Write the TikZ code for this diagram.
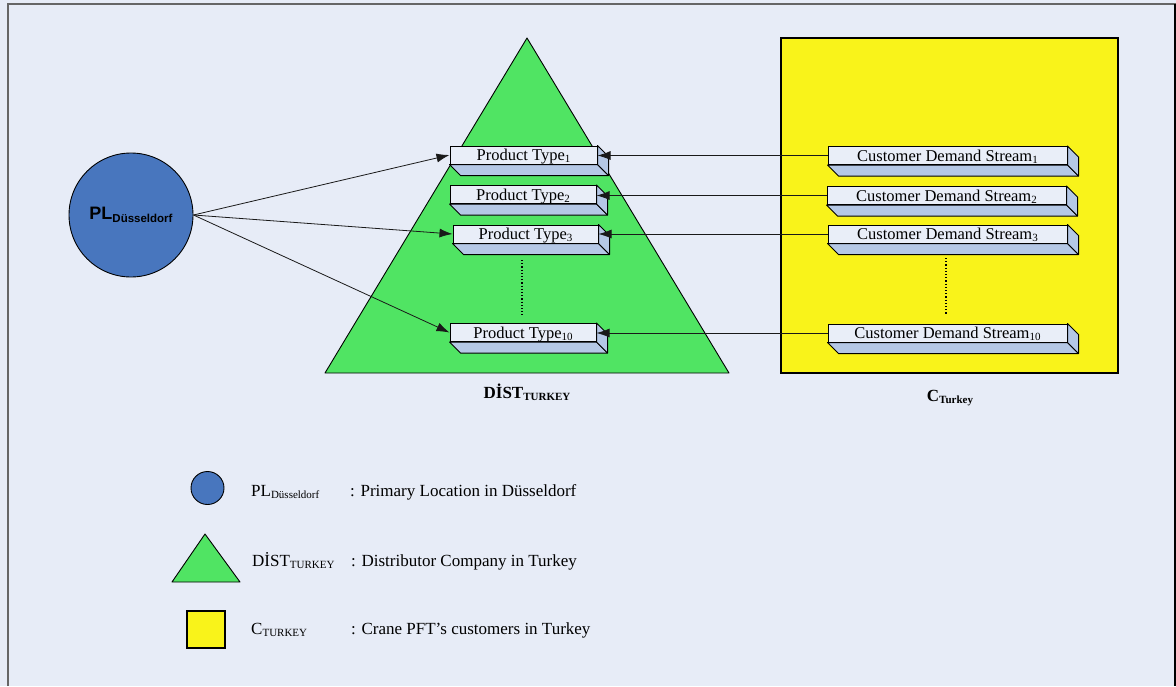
\documentclass[tikz,border=0pt]{standalone}
\usepackage{fontspec}
\setmainfont{Liberation Serif}
\newfontfamily\arialfont{Liberation Sans}
\usetikzlibrary{arrows.meta}

\definecolor{bgcol}{RGB}{231,236,247}
\definecolor{plblue}{RGB}{72,118,190}
\definecolor{distgreen}{RGB}{80,228,99}
\definecolor{custyellow}{RGB}{249,243,26}
\definecolor{facecol}{RGB}{233,238,248}
\definecolor{sidecol}{RGB}{181,200,230}

\newcommand\subtxt[1]{\raisebox{-0.3ex}{\fontsize{11}{11}\selectfont #1}}

\tikzset{
  frontface/.style={draw=black, fill=facecol, line width=1pt, minimum height=18pt,
    inner sep=0pt, text height=13.5pt, text depth=2.5pt, font=\fontsize{16.5}{18}\selectfont},
  sideface/.style={draw=black, fill=sidecol, line width=1pt, line join=round},
  link/.style={draw=black!90, line width=0.8pt, -{Latex[length=13pt,width=9pt]}},
  legendtext/.style={anchor=base west, inner sep=0pt, font=\fontsize{17}{19}\selectfont},
  capt/.style={font=\bfseries\fontsize{17}{19}\selectfont, inner sep=0pt},
  dots/.style={dotted, line width=1.2pt},
}

% a flat 3-D bar: name, centre x, centre y, width, text
\newcommand\barbox[5]{%
  \node[frontface, minimum width=#4pt] (#1) at (#2,#3) {#5};
  \path[sideface] (#1.south west) -- ++(11,11) -- ([shift={(11,11)}]#1.south east)
    -- (#1.south east) -- cycle;
  \path[sideface] (#1.north east) -- ([shift={(11,11)}]#1.north east)
    -- ([shift={(11,11)}]#1.south east) -- (#1.south east) -- cycle;
}

\begin{document}
\begin{tikzpicture}[x=1pt,y=-1pt]
  \useasboundingbox (0,0) rectangle (1176,686);
  \fill[bgcol] (0,0) rectangle (1176,686);
  % frame
  \draw[black!60, line width=2pt] (8,686) -- (8,4) -- (1176,4);
  \draw[black, line width=1.2pt] (1175,4) -- (1175,686);

  % distributor and customers
  \draw[fill=distgreen, line width=0.9pt, line join=round] (527,38) -- (729,373) -- (325,373) -- cycle;
  \draw[fill=custyellow, line width=1.8pt] (781,38) rectangle (1118,373);

  % primary location
  \node[circle, draw=black, fill=plblue, line width=0.9pt, minimum size=124pt, inner sep=0pt] (pl) at (131,215)
    {\arialfont\bfseries\fontsize{18}{18}\selectfont PL\raisebox{-0.3ex}{\fontsize{11.5}{11.5}\selectfont Düsseldorf}};

  % product types
  \barbox{p1}{523.5}{155}{147}{Product Type\subtxt{1}}
  \barbox{p2}{523}{194.5}{146}{Product Type\subtxt{2}}
  \barbox{p3}{525.5}{234}{145}{Product Type\subtxt{3}}
  \barbox{p10}{523}{332.5}{146}{Product Type\subtxt{10}}

  % customer demand streams
  \barbox{c1}{947.5}{155.5}{239}{Customer Demand Stream\subtxt{1}}
  \barbox{c2}{946.5}{195.5}{239}{Customer Demand Stream\subtxt{2}}
  \barbox{c3}{947.5}{234}{239}{Customer Demand Stream\subtxt{3}}
  \barbox{c10}{947.5}{333}{239}{Customer Demand Stream\subtxt{10}}

  % elided rows
  \coordinate (dA) at (522,260); \coordinate (dB) at (522,315);
  \coordinate (dC) at (946,258); \coordinate (dD) at (946,315);
  \draw[dots] (dA) -- (dB);
  \draw[dots] (dC) -- (dD);

  % flows
  \draw[link] (pl.east) -- (p1.west);
  \draw[link] (pl.east) -- (p3.west);
  \draw[link] (pl.east) -- (p10.west);
  \draw[link] (c1.west) -- (c1.west -| p1.east);
  \draw[link] (c2.west) -- (c2.west -| p2.east);
  \draw[link] (c3.west) -- (c3.west -| p3.east);
  \draw[link] (c10.west) -- (c10.west -| p10.east);

  % captions
  \node[capt] (distcap) at (527,392) {DİST\raisebox{-0.3ex}{\fontsize{11}{11}\selectfont TURKEY}};
  \node[capt] (custcap) at (950,398) {C\raisebox{-0.3ex}{\fontsize{11}{11}\selectfont Turkey}};

  % legend
  \node[circle, draw=black, fill=plblue, line width=0.9pt, minimum size=33pt, inner sep=0pt] (lg1) at (207.5,488) {};
  \draw[fill=distgreen, line width=0.9pt, line join=round] (172,582) -- (205,534) -- (240,582) -- cycle;
  \draw[fill=custyellow, line width=1.8pt] (187,611) rectangle (225,648);

  \node[legendtext] (l1a) at (251,496) {PL\raisebox{-0.3ex}{\fontsize{11}{11}\selectfont Düsseldorf}};
  \node[legendtext] (l1b) at (350,496) {: Primary Location in Düsseldorf};
  \node[legendtext] (l2a) at (252,566) {DİST\raisebox{-0.3ex}{\fontsize{11}{11}\selectfont TURKEY}};
  \node[legendtext] (l2b) at (351,566) {: Distributor Company in Turkey};
  \node[legendtext] (l3a) at (251,634) {C\raisebox{-0.3ex}{\fontsize{11}{11}\selectfont TURKEY}};
  \node[legendtext] (l3b) at (351,634) {: Crane PFT’s customers in Turkey};
\end{tikzpicture}
\end{document}
